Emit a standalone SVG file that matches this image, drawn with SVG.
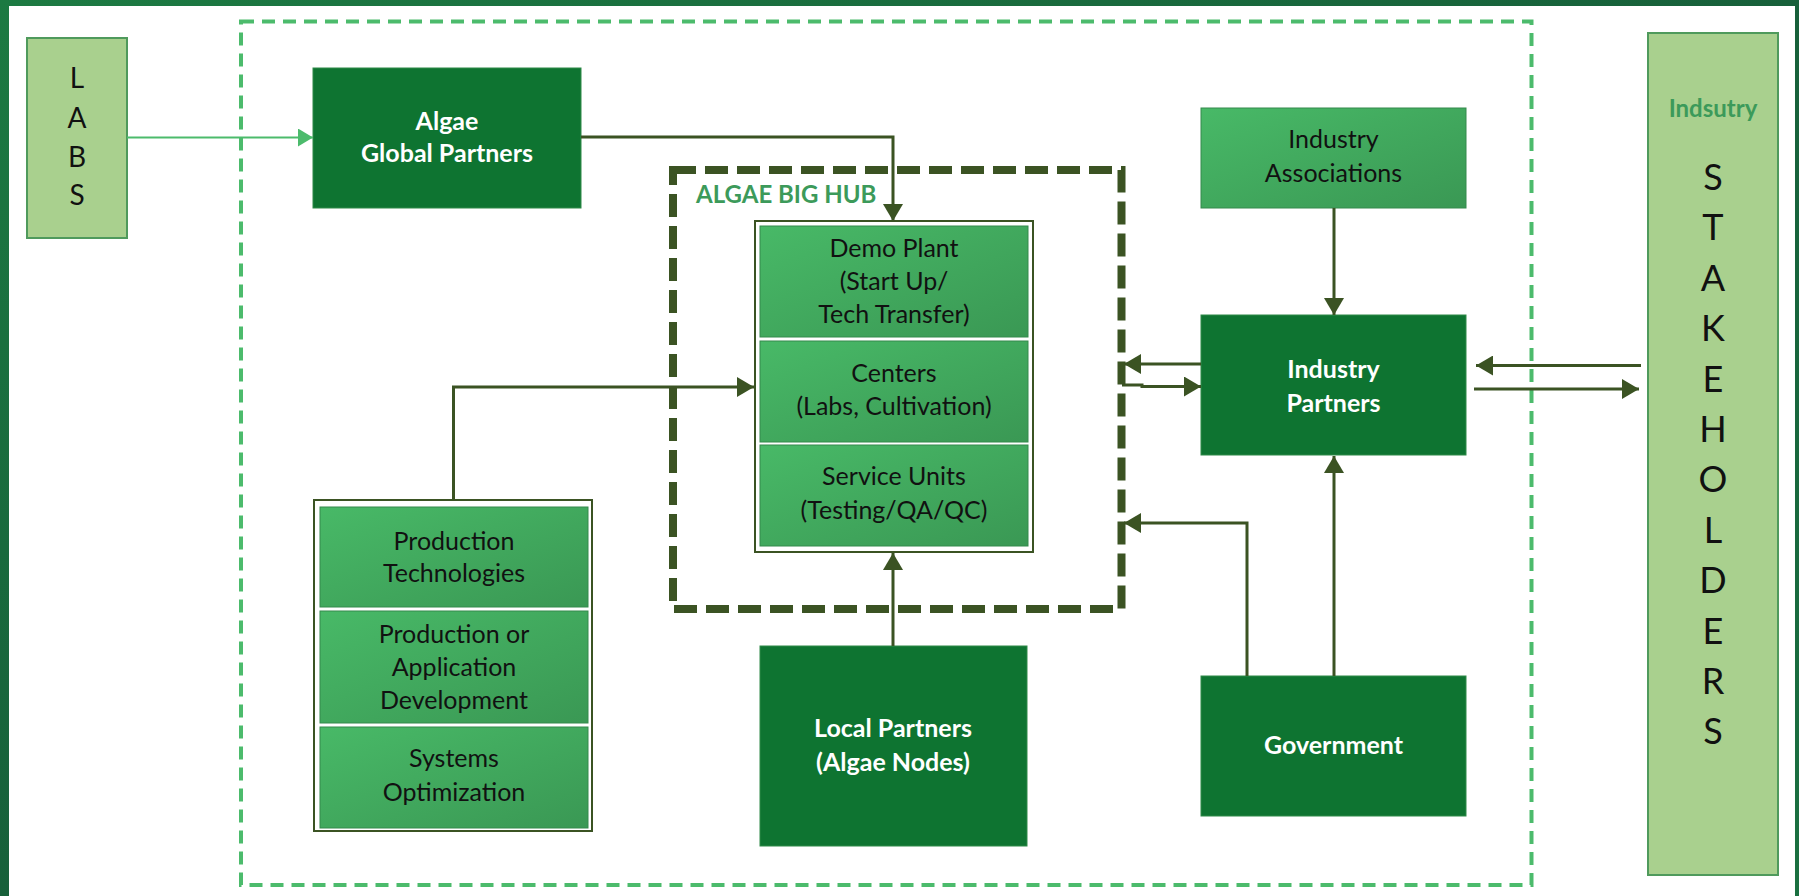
<svg xmlns="http://www.w3.org/2000/svg" width="1799" height="896" viewBox="0 0 1799 896">
  <defs>
    <linearGradient id="frameGrad" x1="0" y1="0" x2="1" y2="1">
      <stop offset="0" stop-color="#1c7a42"/>
      <stop offset="0.5" stop-color="#17603a"/>
      <stop offset="1" stop-color="#1a7040"/>
    </linearGradient>
    <linearGradient id="cellGrad" x1="0" y1="0" x2="1" y2="1">
      <stop offset="0" stop-color="#48b967"/>
      <stop offset="1" stop-color="#3a9854"/>
    </linearGradient>
    <marker id="arrowDark" markerWidth="18" markerHeight="20" refX="17" refY="10" orient="auto" markerUnits="userSpaceOnUse">
      <path d="M0,0 L17,10 L0,20 Z" fill="#3b5323"/>
    </marker>
    <marker id="arrowLight" markerWidth="16" markerHeight="18" refX="15" refY="9" orient="auto" markerUnits="userSpaceOnUse">
      <path d="M0,0 L15,9 L0,18 Z" fill="#4cbb6c"/>
    </marker>
  </defs>
  <style>
    .dark { fill: #0e7431; stroke: #2f8a48; stroke-width: 1; }
    .cell { fill: url(#cellGrad); stroke: #358a4c; stroke-width: 1; }
    .pale { fill: #a9d08e; stroke: #4f9a5c; stroke-width: 2; }
    .stack { fill: #ffffff; stroke: #3b5323; stroke-width: 2; }
    .lbl { font-family: Lato, "Liberation Sans", sans-serif; font-size: 25px; fill: #111111; text-anchor: middle; }
    .wlbl { font-family: Lato, "Liberation Sans", sans-serif; font-size: 25px; font-weight: bold; fill: #ffffff; text-anchor: middle; }
    .vert { font-family: Lato, "Liberation Sans", sans-serif; fill: #111111; text-anchor: middle; }
    .conn { fill: none; stroke: #3b5323; stroke-width: 3; }
  </style>

  <!-- frame and canvas -->
  <rect x="0" y="0" width="1799" height="896" fill="url(#frameGrad)"/>
  <rect x="9" y="6" width="1786" height="890" fill="#ffffff"/>

  <!-- ecosystem boundary -->
  <rect id="ecosystem" x="241" y="21.5" width="1290.5" height="863.5" fill="none" stroke="#4cbb6c" stroke-width="4" stroke-dasharray="13 8"/>

  <!-- hub boundary -->
  <g id="algae-big-hub">
    <rect x="673" y="170" width="448.5" height="439" fill="none" stroke="#3b5323" stroke-width="8" stroke-dasharray="23 9"/>
    <text x="696" y="203" font-family="Lato, 'Liberation Sans', sans-serif" font-size="24" font-weight="bold" fill="#3c9a5a">ALGAE BIG HUB</text>
  </g>

  <g id="labs">
    <rect class="pale" x="27" y="38" width="100" height="200"/>
    <text class="vert" x="77" font-size="28"><tspan x="77" y="88">L</tspan><tspan x="77" y="128">A</tspan><tspan x="77" y="167">B</tspan><tspan x="77" y="205">S</tspan></text>
  </g>

  <g id="algae-global-partners">
    <rect class="dark" x="313" y="68" width="268" height="140"/>
    <text class="wlbl"><tspan x="447" y="130">Algae</tspan><tspan x="447" y="162">Global Partners</tspan></text>
  </g>

  <g id="hub-units">
    <rect class="stack" x="755" y="221" width="278" height="331"/>
    <g id="demo-plant">
      <rect class="cell" x="760" y="226" width="268" height="111"/>
      <text class="lbl"><tspan x="894" y="257">Demo Plant</tspan><tspan x="894" y="290">(Start Up/</tspan><tspan x="894" y="323">Tech Transfer)</tspan></text>
    </g>
    <g id="centers">
      <rect class="cell" x="760" y="341" width="268" height="101"/>
      <text class="lbl"><tspan x="894" y="382">Centers</tspan><tspan x="894" y="415">(Labs, Cultivation)</tspan></text>
    </g>
    <g id="service-units">
      <rect class="cell" x="760" y="445" width="268" height="101"/>
      <text class="lbl"><tspan x="894" y="485">Service Units</tspan><tspan x="894" y="519">(Testing/QA/QC)</tspan></text>
    </g>
  </g>

  <g id="production-units">
    <rect class="stack" x="314" y="500" width="278" height="331"/>
    <g id="production-technologies">
      <rect class="cell" x="320" y="507" width="268" height="100"/>
      <text class="lbl"><tspan x="454" y="550">Production</tspan><tspan x="454" y="582">Technologies</tspan></text>
    </g>
    <g id="application-development">
      <rect class="cell" x="320" y="611" width="268" height="112"/>
      <text class="lbl"><tspan x="454" y="643">Production or</tspan><tspan x="454" y="676">Application</tspan><tspan x="454" y="709">Development</tspan></text>
    </g>
    <g id="systems-optimization">
      <rect class="cell" x="320" y="727" width="268" height="101"/>
      <text class="lbl"><tspan x="454" y="767">Systems</tspan><tspan x="454" y="801">Optimization</tspan></text>
    </g>
  </g>

  <g id="local-partners">
    <rect class="dark" x="760" y="646" width="267" height="200"/>
    <text class="wlbl"><tspan x="893" y="737">Local Partners</tspan><tspan x="893" y="771">(Algae Nodes)</tspan></text>
  </g>

  <g id="industry-associations">
    <rect class="cell" x="1201" y="108" width="265" height="100"/>
    <text class="lbl"><tspan x="1333.5" y="148">Industry</tspan><tspan x="1333.5" y="182">Associations</tspan></text>
  </g>

  <g id="industry-partners">
    <rect class="dark" x="1201" y="315" width="265" height="140"/>
    <text class="wlbl"><tspan x="1333.5" y="378">Industry</tspan><tspan x="1333.5" y="412">Partners</tspan></text>
  </g>

  <g id="government">
    <rect class="dark" x="1201" y="676" width="265" height="140"/>
    <text class="wlbl" x="1333.5" y="754">Government</text>
  </g>

  <g id="stakeholders">
    <rect class="pale" x="1648" y="33" width="130" height="842"/>
    <text x="1713" y="117" font-family="Lato, 'Liberation Sans', sans-serif" font-size="24" font-weight="bold" fill="#3c9a5a" text-anchor="middle">Indsutry</text>
    <text class="vert" font-size="36">
      <tspan x="1713" y="190">S</tspan><tspan x="1713" y="240.4">T</tspan><tspan x="1713" y="290.8">A</tspan><tspan x="1713" y="341.2">K</tspan><tspan x="1713" y="391.6">E</tspan><tspan x="1713" y="442">H</tspan><tspan x="1713" y="492.4">O</tspan><tspan x="1713" y="542.8">L</tspan><tspan x="1713" y="593.2">D</tspan><tspan x="1713" y="643.6">E</tspan><tspan x="1713" y="694">R</tspan><tspan x="1713" y="744.4">S</tspan>
    </text>
  </g>

  <g id="connectors">
    <path d="M127,137.5 H313" fill="none" stroke="#4cbb6c" stroke-width="2" marker-end="url(#arrowLight)"/>
    <path class="conn" d="M581,137 H893 V221" marker-end="url(#arrowDark)"/>
    <path class="conn" d="M453.5,500 V387 H754" marker-end="url(#arrowDark)"/>
    <path class="conn" d="M893,646 V553" marker-end="url(#arrowDark)"/>
    <path class="conn" d="M1334,208 V315" marker-end="url(#arrowDark)"/>
    <path class="conn" d="M1201,364 H1124" marker-end="url(#arrowDark)"/>
    <path class="conn" d="M1122,385 H1142 V386.5 H1201" marker-end="url(#arrowDark)"/>
    <path class="conn" d="M1247,676 V523 H1124" marker-end="url(#arrowDark)"/>
    <path class="conn" d="M1334,676 V456" marker-end="url(#arrowDark)"/>
    <path class="conn" d="M1641,365.5 H1476" marker-end="url(#arrowDark)"/>
    <path class="conn" d="M1474,389 H1639" marker-end="url(#arrowDark)"/>
  </g>
</svg>
